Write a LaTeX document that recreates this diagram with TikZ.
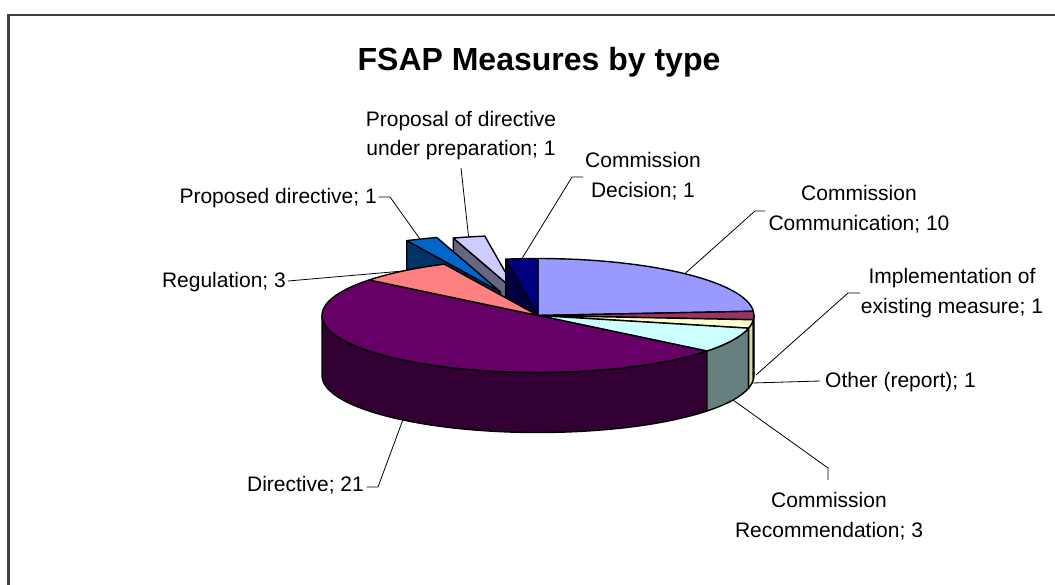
\documentclass[tikz,border=0pt]{standalone}
\usepackage{fontspec}
\setmainfont{Liberation Sans}
\usetikzlibrary{calc}
\definecolor{cComm}{HTML}{9999FF}
\definecolor{cImpl}{HTML}{993366}
\definecolor{cImplS}{HTML}{4D1A33}
\definecolor{cOth}{HTML}{FFFFCC}
\definecolor{cOthS}{HTML}{D9D9A6}
\definecolor{cRec}{HTML}{CCFFFF}
\definecolor{cRecS}{HTML}{668080}
\definecolor{cDir}{HTML}{660066}
\definecolor{cDirS}{HTML}{330033}
\definecolor{cReg}{HTML}{FF8080}
\definecolor{cPDir}{HTML}{0066CC}
\definecolor{cPDirS}{HTML}{003366}
\definecolor{cPrep}{HTML}{CCCCFF}
\definecolor{cPrepS}{HTML}{666680}
\definecolor{cDec}{HTML}{000080}
\definecolor{cDecS}{HTML}{000040}
\def\cx{538}\def\cy{315.5}\def\rx{216}\def\ry{57}\def\dep{60}
\newcommand\toppt[3]{({\cx+#1+\rx*cos(#3)},{\cy+#2-\ry*sin(#3)})}
\newcommand\topslice[5]{%
  \filldraw[slice,fill=#5] ({\cx+#1},{\cy+#2}) -- \toppt{#1}{#2}{#3}
    arc[start angle={-(#3)}, end angle={-(#4)}, x radius=\rx, y radius=\ry] -- cycle;}
\newcommand\sideseg[5]{%
  \filldraw[slice,fill=#5] \toppt{#1}{#2}{#3}
    arc[start angle={-(#3)}, end angle={-(#4)}, x radius=\rx, y radius=\ry] -- ++(0,\dep)
    arc[start angle={-(#4)}, end angle={-(#3)}, x radius=\rx, y radius=\ry] -- cycle;}
\newcommand\wallface[4]{%
  \filldraw[slice,fill=#4] ({\cx+#1},{\cy+#2}) -- \toppt{#1}{#2}{#3} -- ++(0,\dep)
    -- ({\cx+#1},{\cy+#2+\dep}) -- cycle;}
\begin{document}
\begin{tikzpicture}[x=1pt,y=-1pt,
  slice/.style={draw=black,line width=1.4pt,line join=round},
  leader/.style={draw=black,line width=0.8pt},
  lbl/.style={inner sep=0pt,font=\fontsize{21}{25}\selectfont},
  ttl/.style={inner sep=0pt,font=\fontsize{32}{38}\selectfont\bfseries}]
\useasboundingbox (0,0) rectangle (1055,584);
\clip (0,0) rectangle (1055,584);
\fill[white] (0,0) rectangle (1055,584);
\draw[line width=2.2pt,draw=black!75] (8.5,15) rectangle (1090,620);

% exploded slices (behind)
\wallface{-21}{-23}{107.1429}{cPrepS}
\topslice{-21}{-23}{107.1429}{98.5714}{cPrep}
\wallface{-37.5}{-23.5}{115.7143}{cPDirS}
\topslice{-37.5}{-23.5}{115.7143}{107.1429}{cPDir}
% main pie: visible walls and sides
\wallface{0}{0}{98.5714}{cDecS}
\sideseg{0}{0}{-180}{-38.5714}{cDirS}
\sideseg{0}{0}{-38.5714}{-12.8571}{cRecS}
\sideseg{0}{0}{-12.8571}{-4.2857}{cOthS}
\sideseg{0}{0}{-4.2857}{0}{cImplS}
% main pie: tops
\topslice{0}{0}{90}{4.2857}{cComm}
\topslice{0}{0}{4.2857}{-4.2857}{cImpl}
\topslice{0}{0}{-4.2857}{-12.8571}{cOth}
\topslice{0}{0}{-12.8571}{-38.5714}{cRec}
\topslice{0}{0}{-38.5714}{-218.5714}{cDir}
\topslice{0}{0}{141.4286}{115.7143}{cReg}
\topslice{0}{0}{98.5714}{90}{cDec}

% title and labels
\node[ttl,anchor=base] (title) at (539,70) {FSAP Measures by type};
\node[lbl,anchor=base] (prepA) at (461,126) {Proposal of directive};
\node[lbl,anchor=base] (prepB) at (461,155) {under preparation; 1};
\node[lbl,anchor=base] (decA) at (643,167) {Commission};
\node[lbl,anchor=base] (decB) at (643,197) {Decision; 1};
\node[lbl,anchor=base] (comA) at (859,200) {Commission};
\node[lbl,anchor=base] (comB) at (859,230) {Communication; 10};
\node[lbl,anchor=base east] (pdir) at (377,203) {Proposed directive; 1};
\node[lbl,anchor=base east] (reg) at (286,287) {Regulation; 3};
\node[lbl,anchor=base] (impA) at (952,283) {Implementation of};
\node[lbl,anchor=base] (impB) at (952,313) {existing measure; 1};
\node[lbl,anchor=base west] (oth) at (825,387) {Other (report); 1};
\node[lbl,anchor=base] (recA) at (829,507) {Commission};
\node[lbl,anchor=base] (recB) at (829,537) {Recommendation; 3};
\node[lbl,anchor=base east] (dir) at (364,491) {Directive; 21};

% leader line points
\coordinate (pdirS) at (378.5,197); \coordinate (pdirT) at (390,197); \coordinate (pdirE) at (420,239);
\coordinate (prepS) at (461,168); \coordinate (prepE) at (468.5,236);
\coordinate (decS) at (583,177); \coordinate (decT) at (572,177); \coordinate (decE) at (522,258.5);
\coordinate (comS) at (765,211); \coordinate (comT) at (755,211); \coordinate (comE) at (685,273.5);
\coordinate (impS) at (860,293); \coordinate (impT) at (848,293); \coordinate (impE) at (756,375);
\coordinate (othS) at (820,381); \coordinate (othE) at (752,383);
\coordinate (recS) at (828,480); \coordinate (recT) at (828,468); \coordinate (recE) at (733,400);
\coordinate (dirS) at (366.5,487); \coordinate (dirT) at (378,487); \coordinate (dirE) at (403,419.5);
\coordinate (regS) at (288,281); \coordinate (regE) at (403,271);

\draw[leader] (pdirS) -- (pdirT) -- (pdirE);
\draw[leader] (prepS) -- (prepE);
\draw[leader] (decS) -- (decT) -- (decE);
\draw[leader] (comS) -- (comT) -- (comE);
\draw[leader] (impS) -- (impT) -- (impE);
\draw[leader] (othS) -- (othE);
\draw[leader] (recS) -- (recT) -- (recE);
\draw[leader] (dirS) -- (dirT) -- (dirE);
\draw[leader] (regS) -- (regE);
\end{tikzpicture}
\end{document}
